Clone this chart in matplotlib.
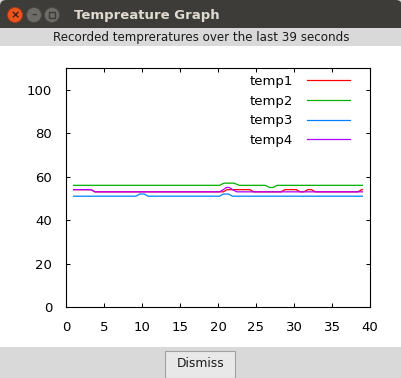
import matplotlib
matplotlib.use("Agg")
import matplotlib.pyplot as plt
from matplotlib.patches import Rectangle, Circle, FancyBboxPatch

# readings (seconds, deg)
t1_x = [1, 3.3, 3.8, 20.7, 21.2, 24.2, 24.7, 28.3, 28.8, 30.3, 30.8, 31.3, 31.8, 32.3, 32.8, 38.4, 38.9, 39]
t1_y = [54, 54, 53, 53, 54, 54, 53, 53, 54, 54, 53, 53, 54, 54, 53, 53, 54, 54]
t2_x = [1, 20.2, 20.8, 22.1, 22.8, 26.2, 26.8, 27.2, 27.8, 39]
t2_y = [56, 56, 57, 57, 56, 56, 55, 55, 56, 56]
t3_x = [1, 9.2, 9.7, 10.3, 10.8, 20.2, 20.7, 21.4, 21.9, 39]
t3_y = [51, 51, 52, 52, 51, 51, 52, 52, 51, 51]
t4_x = [1, 3.3, 3.8, 20.2, 20.7, 21.1, 21.5, 21.9, 22.5, 39]
t4_y = [54, 54, 53, 53, 54, 55, 55, 54, 53, 53]

labels = ['temp1', 'temp2', 'temp3', 'temp4']
colors = ['#ff0000', '#00b000', '#0080ff', '#b000ff']

W, H = 402, 378
fig = plt.figure(figsize=(W / 100, H / 100), dpi=100)
fig.patch.set_facecolor('#d9d9d9')

# window chrome drawn in pixel units
bg = fig.add_axes([0, 0, 1, 1], zorder=0)
bg.set_xlim(0, W)
bg.set_ylim(H, 0)
bg.axis('off')
bg.add_patch(FancyBboxPatch((0, 0), W, 40, boxstyle='round,pad=0,rounding_size=6',
                            fc='#3d3c38', ec='none'))
bg.add_patch(Rectangle((0, 28), W, 20, fc='#d9d9d9', ec='none'))
bg.add_patch(Rectangle((0, 46), W - 1, 301, fc='white', ec='none'))
bg.add_patch(Circle((15, 15), 7.5, fc='#e9541f', ec='#a8391a', lw=0.6))
bg.add_patch(Circle((34, 15), 7.5, fc='#6d6c67', ec='#4a4944', lw=0.6))
bg.add_patch(Circle((52, 15), 7.5, fc='#6d6c67', ec='#4a4944', lw=0.6))
bg.text(15, 15.5, '×', ha='center', va='center', fontsize=8, color='#3a1a10', fontweight='bold')
bg.text(34, 15, '–', ha='center', va='center', fontsize=8, color='#3a3a36', fontweight='bold')
bg.add_patch(Rectangle((49, 12), 6, 6, fc='none', ec='#3a3a36', lw=1))
bg.text(74, 15, 'Tempreature Graph', ha='left', va='center', fontsize=9.5,
        fontweight='bold', color='#dfdbd2', family='DejaVu Sans')
bg.text(201, 37, 'Recorded tempreratures over the last 39 seconds', ha='center',
        va='center', fontsize=8.6, color='#1a1a1a', family='DejaVu Sans')
bg.add_patch(Rectangle((165.5, 350.5), 70, 27, fc='#e8e8e8', ec='#a0a0a0', lw=0.8))
bg.text(200.5, 363.5, 'Dismiss', ha='center', va='center', fontsize=8.8,
        color='#1a1a1a', family='DejaVu Sans')

# plot area
ax = fig.add_axes([66 / W, 1 - 307 / H, (370 - 66) / W, (307 - 68) / H], zorder=1)
ax.set_facecolor('white')
for xs, ys, lab, col in zip([t1_x, t2_x, t3_x, t4_x], [t1_y, t2_y, t3_y, t4_y], labels, colors):
    ax.plot(xs, ys, color=col, lw=0.9, label=lab)

ax.set_xlim(0, 40)
ax.set_ylim(0, 110)
ax.set_xticks(range(0, 41, 5))
ax.set_yticks(range(0, 101, 20))
ax.tick_params(direction='in', top=True, right=True, length=3, width=0.75,
               labelsize=9.5, pad=10)
for s in ax.spines.values():
    s.set_linewidth(0.8)

leg = ax.legend(loc='upper right', bbox_to_anchor=(350 / W, 1 - 75 / H),
                bbox_transform=fig.transFigure, frameon=False, markerfirst=False,
                handlelength=3.25, handletextpad=1.05, labelspacing=0.5,
                borderpad=0, borderaxespad=0, prop={'size': 9.5})

plt.savefig('out.png', dpi=100)
